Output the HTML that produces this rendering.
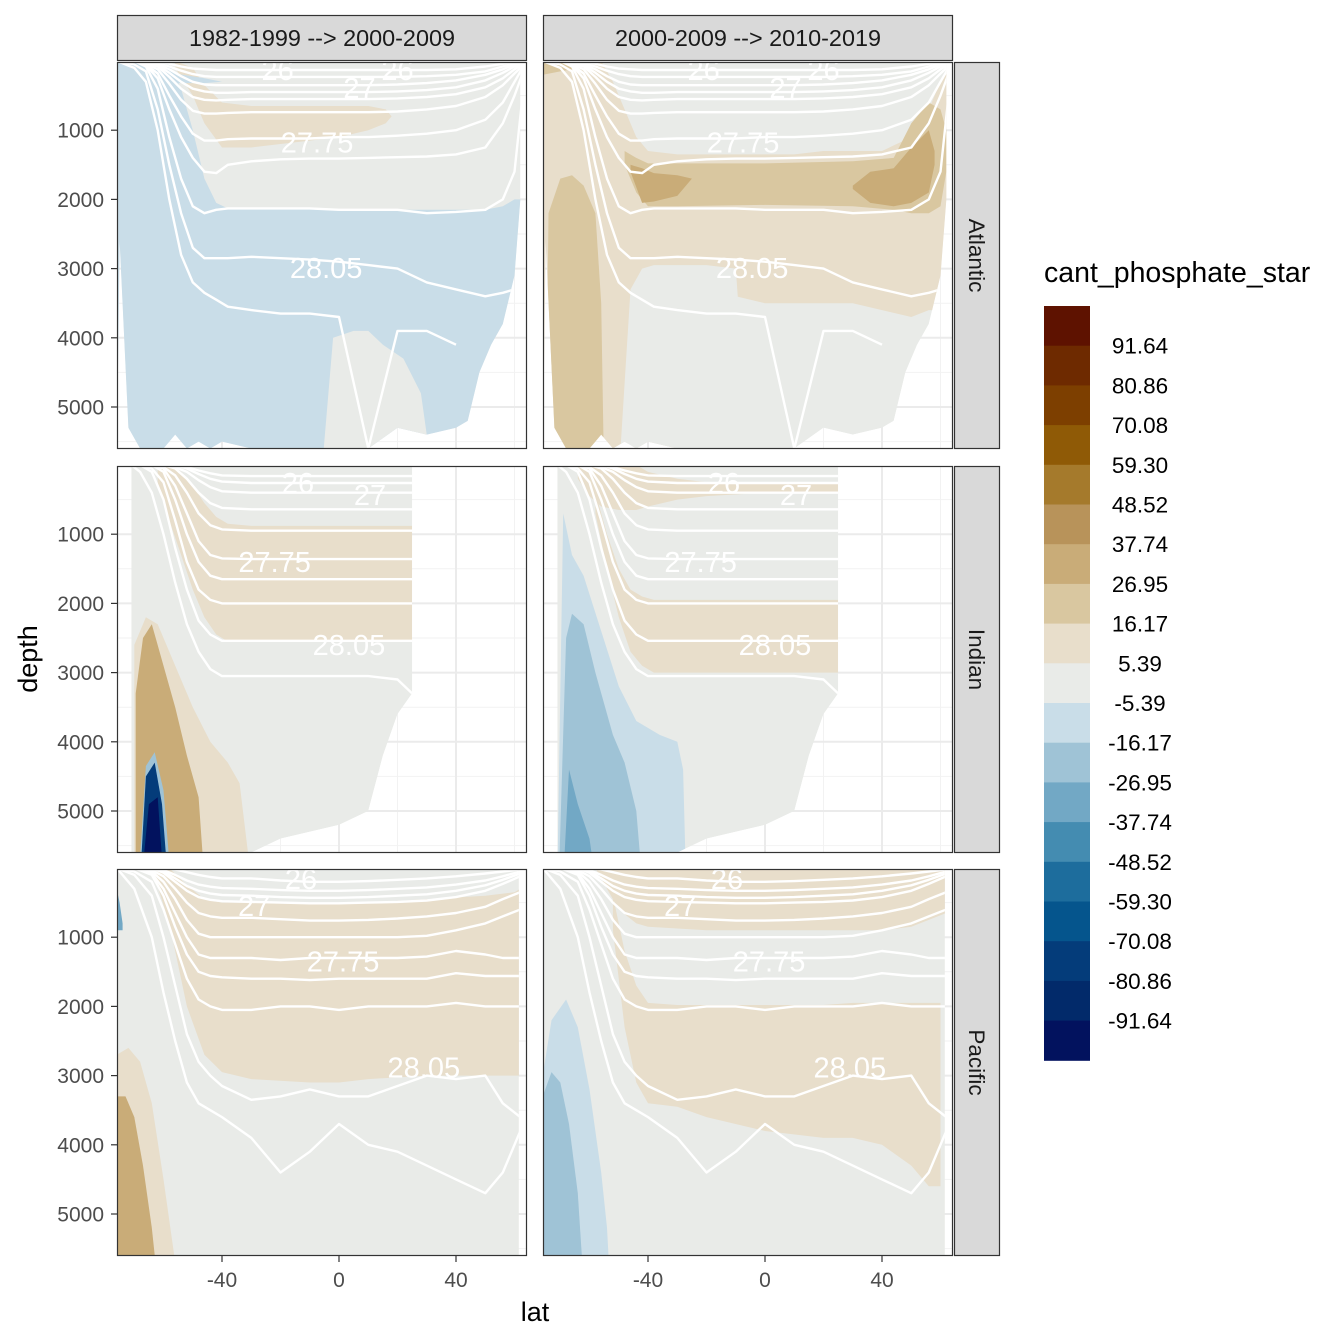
<!DOCTYPE html>
<html><head><meta charset="utf-8">
<style>
html,body{margin:0;padding:0;background:#fff;}
svg{display:block;font-family:"Liberation Sans",Arial,sans-serif;}
</style></head>
<body>
<svg id="chart" width="1344" height="1344" viewBox="0 0 1344 1344" xmlns="http://www.w3.org/2000/svg">
<defs id="defs"></defs>
<g id="panels"></g>
<g id="axes"></g>
<g id="legend"></g>
</svg>
<script>
// ---------- data ----------
const colTitles = ["1982-1999 --> 2000-2009", "2000-2009 --> 2010-2019"];
const basins = ["Atlantic", "Indian", "Pacific"];
const latTicks = [-40, 0, 40];
const depthTicks = [1000, 2000, 3000, 4000, 5000];
const legendLabels = ["91.64","80.86","70.08","59.30","48.52","37.74","26.95","16.17","5.39","-5.39","-16.17","-26.95","-37.74","-48.52","-59.30","-70.08","-80.86","-91.64"];
const legendColors = ["#5e1200","#6e2a00","#7d3f00","#8f5a06","#a57a2c","#b8935a","#c9ac78","#d9c7a0","#e8decb","#e9ebe8","#c9dde8","#9fc3d6","#72a8c5","#448cb1","#1d6d9d","#05558d","#043c7a","#022a6a","#02125e"];
const E="#e9ebe8",T1="#e8decb",T2="#d9c7a0",T3="#c9ac78",T4="#b8935a",B1="#c9dde8",B2="#9fc3d6",B3="#72a8c5",D2="#043c7a",D4="#02125e";

// ocean extent (bottom depth) per basin
const oceanLat = [
 [-76,-75,-72,-68,-64,-60,-56,-52,-48,-44,-40,-30,-20,-10,0,10,20,30,40,44,48,52,56,60,62],
 [-71,-68,-64,-60,-56,-52,-48,-44,-40,-30,-20,-10,0,10,15,20,25],
 [-76,-70,-60,-50,-40,-30,-20,-10,0,10,20,30,40,50,55,59,61.5]
];
const oceanBot = [
 [6000,2600,5300,5600,5600,5600,5400,5600,5500,5600,5500,5600,5600,5600,5600,5600,5300,5400,5300,5200,4500,4100,3800,3100,2000],
 [6000,6000,6000,6000,6000,6000,6000,5600,5600,5600,5400,5300,5200,5000,4200,3600,3300],
 [6000,6000,6000,6000,6000,6000,6000,6000,6000,6000,6000,6000,6000,5700,5600,5700,5600]
];

// color layers: [panel index row*2+col]
const layers = [
 // Atlantic left
 [
  {c:B1, lat:[-76,-72,-64,-58,-54,-50,-46,-42,-38,-30,0,30,50,56,60,64], top:[0,0,0,50,400,1000,1700,2050,2130,2130,2150,2150,2150,2100,2000,2000], bot:null},
  {c:E, lat:[-6,-2,5,10,15,22,28,32], top:[6000,4000,3900,3900,4100,4300,4800,6000], bot:null},
  {c:T1, lat:[-56,-50,-46,-40,-30,-20,-10,0,10,16,18], top:[0,100,350,600,650,650,650,650,650,700,800], bot:[100,500,900,1250,1250,1200,1150,1100,1000,900,800]},
  {c:B1, lat:[-76,-66,-56,-46,-40], top:[80,120,180,250,300], bot:[250,300,320,320,300]}
 ],
 // Atlantic right
 [
  {c:T1, lat:[-76,-56,-52,-48,-44,-40,-30,-10,0,10,20,30,40,50,56,60,64], top:[0,0,300,700,1100,1300,1350,1350,1350,1350,1300,1300,1300,1100,700,300,0], bot:[6000,6000,6000,6000,4200,3700,3400,3400,3500,3500,3500,3500,3600,3700,3600,3600,3600]},
  {c:T1, lat:[-46,-42,-38,-32,-28], top:[6000,4200,4600,5000,6000], bot:null},
  {c:E, lat:[-50,-46,-42,-38,-30,-20,-10,-5], top:[6000,3300,3000,2950,2950,2950,3000,6000], bot:null},
  {c:T2, lat:[-75,-74,-70,-66,-62,-58,-56,-55], top:[6000,2200,1700,1650,1800,2200,3500,6000], bot:null},
  {c:T2, lat:[-48,-44,-40,-30,0,30,44,50,56,60,62], top:[1300,1400,1480,1480,1480,1450,1400,900,600,700,1000], bot:[1500,1900,2100,2100,2080,2100,2150,2200,2200,2100,1600]},
  {c:T3, lat:[-46,-42,-38,-30,-25], top:[1500,1550,1620,1650,1700], bot:[1600,2050,2030,1950,1700]},
  {c:T3, lat:[30,36,44,50,56,58], top:[1800,1600,1550,1250,1000,1300], bot:[1850,2050,2100,2050,1900,1500]},
  {c:T2, lat:[-76,-70,-66,-62], top:[0,0,0,0], bot:[200,150,120,0]}
 ],
 // Indian left
 [
  {c:T1, lat:[-62,-58,-54,-50,-46,-42,-38,-30,0,25], top:[0,0,100,300,550,750,850,880,880,880], bot:[300,800,1300,1800,2200,2450,2550,2550,2550,2550]},
  {c:T1, lat:[-70,-66,-62,-56,-50,-44,-38,-34,-30], top:[2600,2200,2300,2900,3500,4000,4300,4600,6000], bot:null},
  {c:T3, lat:[-69.5,-67,-64,-60,-56,-52,-48,-46], top:[3300,2500,2300,2900,3500,4200,4800,6000], bot:null},
  {c:B2, lat:[-68.5,-66,-63,-60,-57.5], top:[6000,4350,4150,4700,6000], bot:null},
  {c:D2, lat:[-68,-66,-63,-60.5,-58.5], top:[6000,4500,4300,4900,6000], bot:null},
  {c:D4, lat:[-67.5,-65,-62,-60], top:[6000,4900,4800,6000], bot:null}
 ],
 // Indian right
 [
  {c:T1, lat:[-64,-60,-56,-50,-44,-40,-30,-20,0,25], top:[0,0,0,0,0,100,200,250,250,250], bot:[200,450,600,650,650,600,500,450,400,400]},
  {c:T1, lat:[-58,-54,-50,-46,-42,-38,-30,0,25], top:[400,1000,1500,1800,1900,1950,1950,1950,1950], bot:[700,1500,2200,2700,2900,3000,3000,3000,3000]},
  {c:B1, lat:[-71,-69,-66,-62,-56,-50,-44,-36,-30,-28,-27], top:[6000,700,1300,1600,2400,3200,3700,3900,4000,4400,6000], bot:null},
  {c:B2, lat:[-70.5,-68,-66,-62,-58,-52,-48,-44,-42], top:[6000,2500,2150,2300,3000,3900,4300,5000,6000], bot:null},
  {c:B3, lat:[-69,-67,-64,-60,-58], top:[6000,4400,4900,5400,6000], bot:null}
 ],
 // Pacific left
 [
  {c:T1, lat:[-64,-58,-52,-46,-40,-30,-10,0,10,30,50,60,62], top:[0,0,250,450,500,500,500,500,500,450,400,350,300], bot:[0,800,2000,2700,2950,3050,3100,3100,3050,3000,3000,3000,3000]},
  {c:T1, lat:[-76,-72,-68,-64,-60,-57,-55], top:[2700,2600,2800,3400,4500,5400,6000], bot:null},
  {c:T3, lat:[-76,-73,-70,-67,-64,-62], top:[3300,3300,3600,4300,5200,6000], bot:null},
  {c:B3, lat:[-76,-75,-74], top:[300,500,800], bot:[900,900,900]}
 ],
 // Pacific right
 [
  {c:T1, lat:[-58,-54,-50,-44,-40,-20,0,20,40,50,56,62], top:[0,0,0,0,0,0,0,0,0,0,0,0], bot:[0,300,600,800,850,900,900,900,900,850,750,650]},
  {c:T1, lat:[-52,-48,-44,-40,-30,-20,0,20,30,40,50,56,60], top:[400,1200,1700,1950,1980,1980,1980,1980,1950,1950,1950,1950,1950], bot:[900,2300,3100,3400,3450,3600,3800,3900,3900,4000,4300,4600,4600]},
  {c:B1, lat:[-76,-73,-68,-64,-60,-56,-54,-53], top:[3000,2200,1900,2300,3200,4400,5200,6000], bot:null},
  {c:B2, lat:[-76,-73,-70,-67,-64,-62], top:[3300,2950,3100,3700,4700,6000], bot:null}
 ]
];

// isopycnal lines per basin (depth on lineLat grid, null = absent)
const n = null;
const lineLat = [
 [-76,-70,-66,-62,-58,-54,-50,-46,-42,-38,-30,-20,-10,0,10,20,30,40,50,56,60,63],
 [-71,-68,-64,-60,-56,-52,-48,-44,-40,-30,-20,-10,0,10,20,25],
 [-76,-70,-64,-60,-56,-52,-48,-44,-40,-30,-20,-10,0,10,20,30,40,50,56,62]
];
const lineDepth = [
 [
  [n,n,n,0,40,80,110,120,130,130,130,130,130,130,130,130,130,120,80,40,0,n],
  [n,n,0,30,80,140,190,220,230,230,230,230,230,230,230,230,220,200,150,80,30,0],
  [n,n,0,50,120,220,300,340,350,350,350,350,350,350,350,340,320,280,200,120,50,0],
  [n,n,0,60,170,300,400,440,460,460,450,450,450,450,450,440,420,380,280,170,80,20],
  [n,0,30,80,230,400,520,560,570,560,550,550,550,550,550,540,520,480,380,250,120,40],
  [n,0,40,120,330,560,720,760,760,750,740,740,740,740,740,730,700,650,520,350,180,60],
  [n,0,50,180,500,800,1050,1150,1150,1130,1120,1120,1120,1100,1100,1080,1050,1000,850,600,300,80],
  [n,0,60,250,700,1100,1400,1600,1620,1500,1450,1420,1410,1410,1400,1390,1380,1350,1250,900,500,150],
  [n,0,80,400,1100,1700,2100,2200,2150,2130,2130,2130,2130,2150,2150,2150,2200,2180,2150,2000,1600,400],
  [0,50,150,700,1500,2200,2700,2850,2850,2850,2830,2850,2870,2900,2950,3000,3200,3300,3400,3350,3300,n],
  [0,100,300,1000,2000,2800,3200,3350,3450,3550,3600,3650,3650,3700,5600,3900,3900,4100,n,n,n,n]
 ],
 [
  [n,n,n,n,0,30,80,120,150,160,160,160,160,160,160,160],
  [n,n,n,n,0,50,130,200,240,260,260,260,260,260,260,260],
  [n,n,n,0,30,100,220,320,380,400,400,400,400,400,400,400],
  [n,n,n,0,50,200,400,550,620,640,640,640,640,640,640,640],
  [n,n,0,30,150,400,700,870,930,950,950,950,950,950,950,950],
  [n,n,0,50,300,700,1100,1300,1350,1360,1360,1360,1360,1360,1360,1360],
  [n,n,0,100,500,1000,1400,1600,1650,1650,1650,1650,1650,1650,1650,1650],
  [n,0,50,250,800,1400,1800,1950,2000,2000,2000,2000,2000,2000,2000,2000],
  [n,0,100,500,1200,1800,2250,2450,2540,2540,2540,2540,2540,2540,2540,2540],
  [0,100,400,1000,1700,2300,2700,2950,3050,3050,3050,3050,3050,3050,3100,3300]
 ],
 [
  [n,n,n,0,20,60,100,130,150,150,180,200,200,190,170,150,120,80,50,20],
  [n,n,0,30,100,180,240,270,290,300,320,330,330,320,300,280,240,180,120,50],
  [n,n,0,50,150,260,330,370,390,400,420,430,430,420,400,380,330,250,170,80],
  [n,n,0,70,200,330,420,460,480,490,500,510,510,500,490,470,420,330,230,120],
  [n,0,30,120,300,500,650,700,720,720,740,760,760,750,730,700,650,560,450,350],
  [n,0,50,200,450,750,950,1000,1000,1000,1000,1000,1000,1000,1000,980,900,800,700,600],
  [n,0,80,300,650,1000,1250,1300,1300,1300,1330,1300,1300,1300,1300,1280,1200,1250,1300,1300],
  [n,0,100,400,850,1250,1500,1560,1580,1600,1600,1620,1600,1600,1600,1600,1520,1560,1560,1560],
  [0,50,200,600,1100,1600,1900,2000,2050,2050,2000,2000,2050,2000,2000,2000,1950,2000,2000,2000],
  [0,100,400,1000,1700,2400,2800,3000,3150,3350,3300,3200,3300,3300,3150,3000,3050,3000,3400,3600],
  [0,300,1000,1800,2500,3100,3400,3500,3600,3900,4400,4100,3700,4000,4100,4300,4500,4700,4400,3800]
 ]
];
const labelText = [["26","26","27","27.75","28.05"],["26","27","27.75","28.05"],["26","27","27.75","28.05"]];
const labelLat = [[-21,20,7,-7.5,-4.4],[-14,10.6,-22,3.4],[-13,-29,1.4,29]];
const labelDepth = [[130,130,390,1180,2990],[260,430,1400,2600],[160,550,1350,2880]];

// ---------- geometry ----------
const colX = [117, 543], rowY = [62, 466, 869], PW = 410, PH = 387;
function X(c, lat){ return colX[c] + 105 + (lat + 40) * 2.925; }
function Y(r, d){ return rowY[r] - 1 + d * 0.0692; }
const NS = "http://www.w3.org/2000/svg";
function mk(tag, attrs, parent){ const e = document.createElementNS(NS, tag); for (const k in attrs) e.setAttribute(k, attrs[k]); if (parent) parent.appendChild(e); return e; }

const defs = document.getElementById('defs');
const panels = document.getElementById('panels');
const axes = document.getElementById('axes');
const legend = document.getElementById('legend');

for (let r = 0; r < 3; r++) {
 for (let c = 0; c < 2; c++) {
  const x0 = colX[c], y0 = rowY[r];
  const g = mk('g', {}, panels);
  
  
  mk('rect', {x:x0, y:y0, width:PW, height:PH, fill:'#fff'}, g);
  const latsMinor = [-60, -20, 20, 60];
  latsMinor.forEach(l => { const gl = mk('line', {x1:X(c,l), x2:X(c,l), y1:y0, y2:y0+PH, stroke:'#f2f2f2', 'stroke-width':1}, g);   });
  [500,1500,2500,3500,4500,5500].forEach(d => { const gl = mk('line', {x1:x0, x2:x0+PW, y1:Y(r,d), y2:Y(r,d), stroke:'#f2f2f2', 'stroke-width':1}, g);   });
  latTicks.forEach(l => { const gl = mk('line', {x1:X(c,l), x2:X(c,l), y1:y0, y2:y0+PH, stroke:'#ebebeb', 'stroke-width':2}, g);   });
  depthTicks.forEach(d => { const gl = mk('line', {x1:x0, x2:x0+PW, y1:Y(r,d), y2:Y(r,d), stroke:'#ebebeb', 'stroke-width':2}, g);   });

  const cid = 'clip' + r + c;
  const cp = mk('clipPath', {id:cid}, defs);
  let pts = [];
  const oL = oceanLat[r], oB = oceanBot[r];
  for (let i = 0; i < oL.length; i++) pts.push([X(c,oL[i]), Y(r,-100)]);
  for (let i = oL.length - 1; i >= 0; i--) pts.push([X(c,oL[i]), Y(r,oB[i])]);
  mk('polygon', {points: pts.map(p => p.join(',')).join(' ')}, cp);
  const cp2 = mk('clipPath', {id:cid+'r'}, defs);
  mk('rect', {x:x0, y:y0, width:PW, height:PH}, cp2);

  const outer = mk('g', {'clip-path':'url(#'+cid+'r)'}, g);
  const data = mk('g', {'clip-path':'url(#'+cid+')'}, outer);
  const base = mk('polygon', {points: pts.map(p => p.join(',')).join(' '), fill:E}, data);
  
  
  layers[r*2+c].forEach(L => {
   const p = [];
   for (let i = 0; i < L.lat.length; i++) p.push(X(c,L.lat[i]).toFixed(1) + ',' + Y(r,L.top[i]).toFixed(1));
   for (let i = L.lat.length - 1; i >= 0; i--) p.push(X(c,L.lat[i]).toFixed(1) + ',' + Y(r, L.bot ? L.bot[i] : 6000).toFixed(1));
   const poly = mk('polygon', {points:p.join(' '), fill:L.c}, data);
   
   
  });
  lineDepth[r].forEach(arr => {
   let d = '', pen = false;
   for (let i = 0; i < arr.length; i++) {
    if (arr[i] === null) { pen = false; continue; }
    d += (pen ? 'L' : 'M') + X(c,lineLat[r][i]).toFixed(1) + ',' + Y(r,arr[i]).toFixed(1);
    pen = true;
   }
   const pl = mk('path', {d:d, fill:'none', stroke:'#fff', 'stroke-width':2.4, 'stroke-linejoin':'round'}, data);
   
   
  });
  labelText[r].forEach((t, i) => {
   const tx = mk('text', {x:X(c,labelLat[r][i]), y:Y(r,labelDepth[r][i]) + 10, fill:'#fff', 'font-size':29, 'text-anchor':'middle'}, outer);
   tx.textContent = t;
   
   
  });
  const br = mk('rect', {x:x0+0.5, y:y0+0.5, width:PW-1, height:PH-1, fill:'none', stroke:'#333', 'stroke-width':1.2}, g);
  
  
 }
 const sg = mk('g', {}, panels);
 
 
 mk('rect', {x:954.5, y:rowY[r]+0.5, width:45, height:PH-1, fill:'#d9d9d9', stroke:'#333', 'stroke-width':1.2}, sg);
 const st = mk('text', {x:0, y:0, 'font-size':22.5, fill:'#1a1a1a', 'text-anchor':'middle', transform:'translate(969,' + (rowY[r]+PH/2) + ') rotate(90)'}, sg);
 st.textContent = basins[r];
 depthTicks.forEach(d => {
  mk('line', {x1:111, x2:117, y1:Y(r,d), y2:Y(r,d), stroke:'#333', 'stroke-width':1.2}, axes);
  const t = mk('text', {x:104, y:Y(r,d)+7.5, 'font-size':21, fill:'#4d4d4d', 'text-anchor':'end'}, axes);
  t.textContent = d;
  
  
 });
}
for (let c = 0; c < 2; c++) {
 const sg = mk('g', {}, panels);
 
 
 mk('rect', {x:colX[c]+0.5, y:15.5, width:PW-1, height:45, fill:'#d9d9d9', stroke:'#333', 'stroke-width':1.2}, sg);
 const st = mk('text', {x:colX[c]+PW/2, y:46, 'font-size':23.4, fill:'#1a1a1a', 'text-anchor':'middle'}, sg);
 st.textContent = colTitles[c];
 latTicks.forEach(l => {
  mk('line', {x1:X(c,l), x2:X(c,l), y1:1256, y2:1262, stroke:'#333', 'stroke-width':1.2}, axes);
  const t = mk('text', {x:X(c,l), y:1287, 'font-size':21, fill:'#4d4d4d', 'text-anchor':'middle'}, axes);
  t.textContent = l;
  
  
 });
}
const xt = mk('text', {x:535, y:1321, 'font-size':27, fill:'#000', 'text-anchor':'middle'}, axes);
xt.textContent = 'lat';


const yt = mk('text', {x:0, y:0, 'font-size':27, fill:'#000', 'text-anchor':'middle', transform:'translate(37,659) rotate(-90)'}, axes);
yt.textContent = 'depth';



const lt = mk('text', {x:1044, y:282, 'font-size':28.5, fill:'#000'}, legend);
lt.textContent = 'cant_phosphate_star';


const lTop = 306, lStep = 39.7;
legendColors.forEach((col, i) => {
 const rc = mk('rect', {x:1044, y:lTop + i*lStep, width:46, height:lStep+0.5, fill:col}, legend);
 
 
});
legendLabels.forEach((s, i) => {
 const t = mk('text', {x:1140, y:lTop + (i+1)*lStep + 8, 'font-size':22.5, fill:'#000', 'text-anchor':'middle'}, legend);
 t.textContent = s;
 
 
});
</script>
</body></html>
